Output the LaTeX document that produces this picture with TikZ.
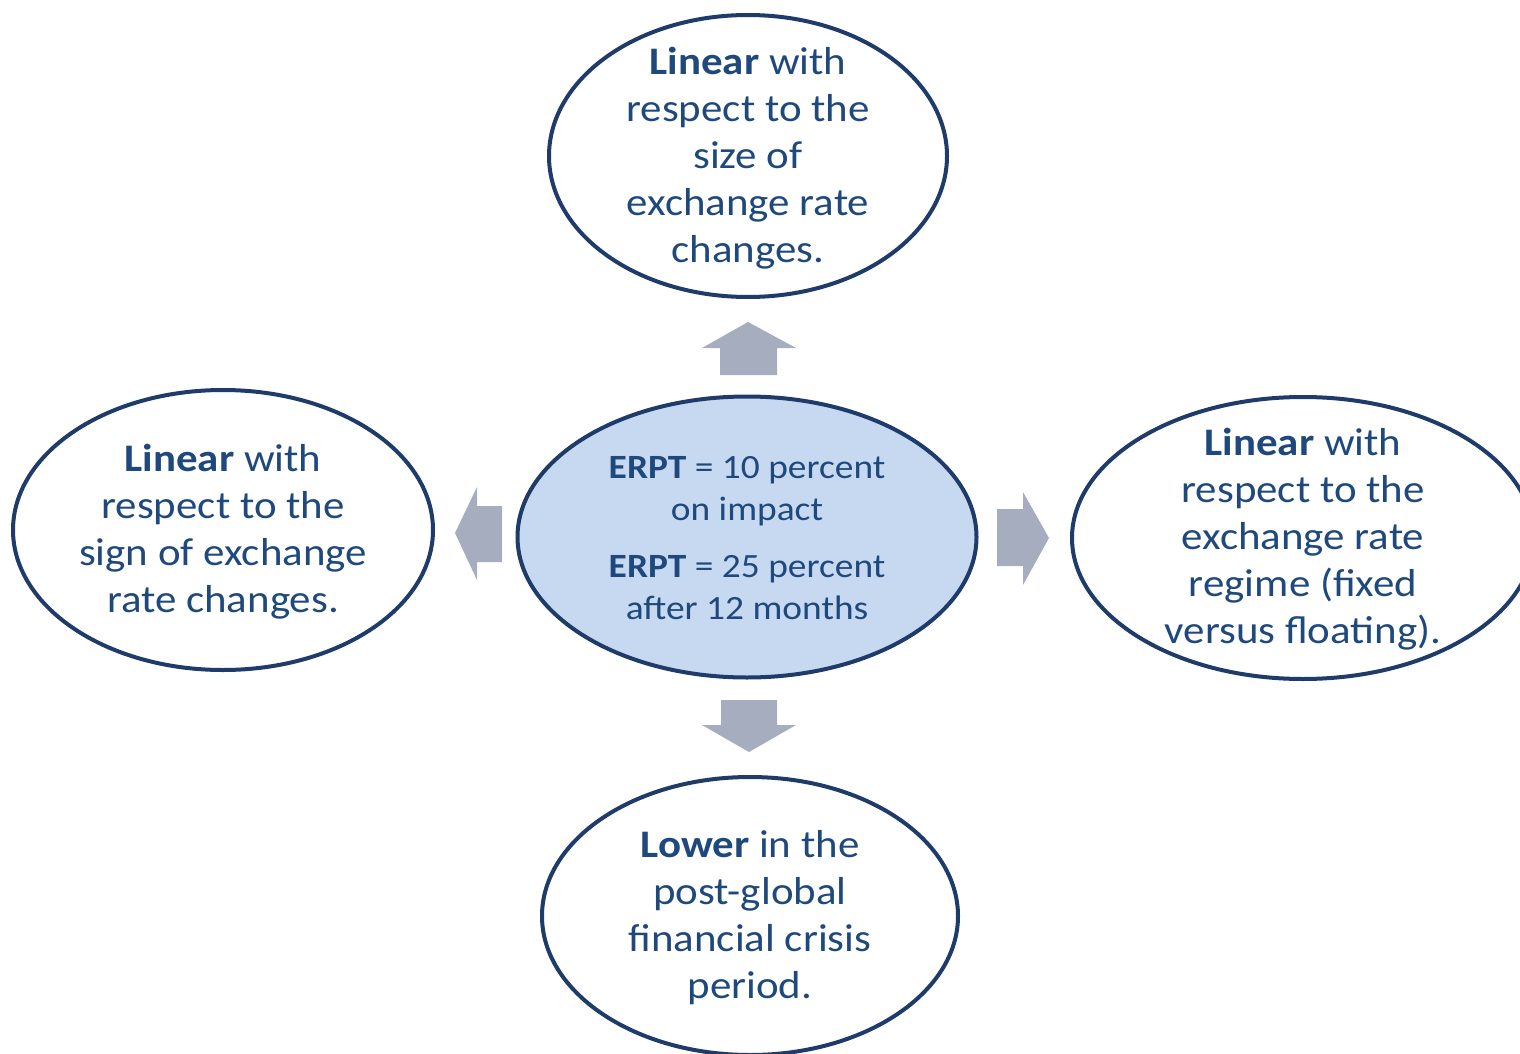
\documentclass[tikz,border=0pt]{standalone}
\usepackage{fontspec}
\setmainfont{Carlito}[FakeStretch=1.1]
\usetikzlibrary{shapes.geometric}
\definecolor{txtblue}{HTML}{1F497D}
\definecolor{edgeblue}{HTML}{1E3B6A}
\definecolor{centerfill}{HTML}{C6D9F1}
\definecolor{arrowgray}{HTML}{A6ADBF}
\tikzset{
  oval/.style={ellipse, draw=edgeblue, line width=4pt, fill=white, inner sep=0pt},
  ovaltext/.style={align=center, text=txtblue, inner sep=0pt, font=\fontsize{39}{47}\selectfont},
  bigarrow/.style={fill=arrowgray, draw=none}
}
\begin{document}
\begin{tikzpicture}[x=1pt,y=-1pt]
\useasboundingbox (0,0) rectangle (1520,1054);
\clip (0,0) rectangle (1520,1054);
\node[oval, minimum width=398pt, minimum height=282pt] (top) at (748,156) {};
\node[ovaltext] (toptext) at ([yshift=-2pt]top.center)
  {\textbf{Linear} with\\respect to the\\size of\\exchange rate\\changes.};
\node[oval, minimum width=420pt, minimum height=280pt] (left) at (223,530) {};
\node[ovaltext] (lefttext) at ([yshift=-2pt]left.center)
  {\textbf{Linear} with\\respect to the\\sign of exchange\\rate changes.};
\node[oval, minimum width=462pt, minimum height=282pt] (right) at (1303,538) {};
\node[ovaltext] (righttext) at ([yshift=-1pt]right.center)
  {\textbf{Linear} with\\respect to the\\exchange rate\\regime (fixed\\versus floating).};
\node[oval, minimum width=416pt, minimum height=278pt] (bottom) at (750,916) {};
\node[ovaltext] (bottomtext) at ([yshift=-2pt]bottom.center)
  {\textbf{Lower} in the\\post-global\\financial crisis\\period.};
\node[oval, fill=centerfill, minimum width=459pt, minimum height=281pt] (center) at (747,537) {};
\node[ovaltext, font=\fontsize{34}{42}\selectfont] (centertext) at ([yshift=-1pt]center.center)
  {\textbf{ERPT} = 10 percent\\on impact\\[15pt]\textbf{ERPT} = 25 percent\\after 12 months};
% block arrows
\fill[bigarrow] (720,375) -- (720,348) -- (702,348) -- (748,322) -- (796,348) -- (777,348) -- (777,375) -- cycle;
\fill[bigarrow] (721,700) -- (777,700) -- (777,725) -- (796,725) -- (749,752) -- (702,725) -- (721,725) -- cycle;
\fill[bigarrow] (502,506) -- (477,506) -- (477,487) -- (455,533) -- (477,580) -- (477,562) -- (502,562) -- cycle;
\fill[bigarrow] (997,509) -- (1023,509) -- (1023,492) -- (1049,538) -- (1023,585) -- (1023,566) -- (997,566) -- cycle;
\end{tikzpicture}
\end{document}
